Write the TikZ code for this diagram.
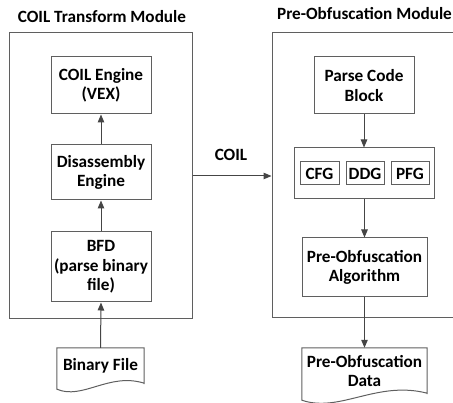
\documentclass[tikz,border=0pt]{standalone}
\usepackage{fontspec}
\setmainfont{Carlito}
\usetikzlibrary{arrows.meta,calc}
\definecolor{boxgray}{HTML}{5F5F5F}
\definecolor{arrgray}{HTML}{454545}
\begin{document}
\begin{tikzpicture}[x=1pt,y=-1pt,
  every node/.style={font=\fontsize{17.2}{19.5}\selectfont\bfseries, text=black},
  box/.style={draw=boxgray, line width=1pt, align=center, inner sep=0pt},
  txt/.style={align=center, inner sep=0pt},
  docline/.style={draw=boxgray, line width=1pt},
  arr/.style={draw=arrgray, line width=1pt, -{Triangle[length=8pt,width=6.5pt]}},
]
\clip (0,0) rectangle (453,403);
% titles
\node (t1) at (102,17) {COIL Transform Module};
\node (t2) at (364.5,14) {Pre-Obfuscation Module};
% module frames
\node[box, minimum width=182.5pt, minimum height=286pt] (lm) at (100.75,176) {};
\node[box, minimum width=208pt, minimum height=285pt] (rm) at (376,175.5) {};
% left module contents
\node[box, minimum width=100pt, minimum height=57pt] (ce) at (101,85.5) {COIL Engine\\(VEX)};
\node[box, minimum width=100pt, minimum height=55pt] (de) at (101,172.5) {Disassembly\\Engine};
\node[box, minimum width=100pt, minimum height=70pt] (bfd) at (101,267) {BFD\\(parse binary\\file)};
% binary file document
\node[txt, minimum width=87pt, minimum height=36pt] (bin) at (100.5,366) {Binary File};
\draw[docline] (bin.south east) -- (bin.north east) -- (bin.north west) -- ($(bin.south west)+(0,5)$)
  .. controls ($(bin.south west)+(26,16)$) and ($(bin.south west)+(52,-12)$) .. ($(bin.south east)+(0,-1)$) -- (bin.south east);
% right module contents
\node[box, minimum width=100pt, minimum height=57pt] (pcb) at (364,85.5) {Parse Code\\Block};
\node[box, minimum width=140pt, minimum height=51pt] (grp) at (364,173.5) {};
\node[box, minimum width=39pt, minimum height=23pt] (cfg) at (319.5,173.5) {CFG};
\node[box, minimum width=38pt, minimum height=23pt] (ddg) at (365,173.5) {DDG};
\node[box, minimum width=38pt, minimum height=23pt] (pfg) at (410,173.5) {PFG};
\node[box, minimum width=125pt, minimum height=59pt] (alg) at (364.5,267.5) {Pre-Obfuscation\\Algorithm};
% output document
\node[txt, minimum width=125pt, minimum height=46pt] (data) at (364.5,371) {Pre-Obfuscation\\Data};
\draw[docline] (data.south east) -- (data.north east) -- (data.north west) -- ($(data.south west)+(0,6)$)
  .. controls ($(data.south west)+(38,19)$) and ($(data.south west)+(75,-14)$) .. ($(data.south east)+(0,-1)$) -- (data.south east);
% connectors
\draw[arr] (de.north) -- (ce.south);
\draw[arr] (bfd.north) -- (de.south);
\draw[arr] (bin.north) -- (bfd.south);
\draw[arr] (lm.east) -- (lm.east -| rm.west);
\node (coil) at (231,155) {COIL};
\draw[arr] (pcb.south) -- (pcb.south |- grp.north);
\draw[arr] (grp.south -| alg.north) -- (alg.north);
\draw[arr] (alg.south) -- (data.north);
\end{tikzpicture}
\end{document}
